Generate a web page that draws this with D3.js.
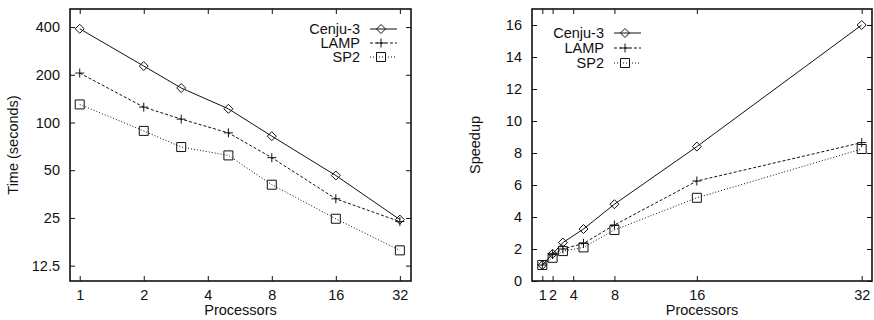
<!DOCTYPE html>
<html lang="en">
<head>
    <meta charset="UTF-8">
    <title>Time and speedup vs processors</title>
    <style>
        body {
            margin: 0;
            background-color: #fff;
        }

        svg text {
            font-family: "Liberation Sans", Arial, sans-serif;
            font-size: 14.5px;
            fill: #111;
        }

        .axis path {
            display: none;
        }

        .axis line {
            stroke: #111;
        }
    </style>
</head>
<body>
    <svg id="chart" width="874" height="320"></svg>

    <script src="https://cdnjs.cloudflare.com/ajax/libs/d3/7.8.5/d3.min.js"></script>
    <script>
        // data
        const processors = [1, 2, 3, 5, 8, 16, 32];

        const timeCenju = [390, 227, 165, 122, 82, 46.3, 24.4];
        const timeLamp = [205, 125, 105, 86, 60, 33, 23.7];
        const timeSp2 = [130, 88.5, 70, 62, 40.5, 24.7, 15.6];

        const speedupCenju = [1, 1.7, 2.4, 3.25, 4.8, 8.4, 16];
        const speedupLamp = [1, 1.65, 2.0, 2.35, 3.5, 6.25, 8.65];
        const speedupSp2 = [1, 1.45, 1.87, 2.1, 3.19, 5.2, 8.25];

        const seriesNames = ['Cenju-3', 'LAMP', 'SP2'];
        const procTicks = [1, 2, 4, 8, 16, 32];
        const timeTicks = [12.5, 25, 50, 100, 200, 400];
        const speedupTicks = [0, 2, 4, 6, 8, 10, 12, 14, 16];

        const styles = [
            { dash: null, marker: 'diamond' },
            { dash: '3,2', marker: 'plus' },
            { dash: '1,2', marker: 'square' }
        ];

        let svg = d3.select('#chart');

        function markerPath (kind) {
            if (kind === 'plus') {
                return 'M-4.5,0H4.5M0,-4.5V4.5';
            }
            if (kind === 'diamond') {
                return 'M0,-4.5L4.5,0L0,4.5L-4.5,0Z';
            }
            return 'M-4.5,-4.5H4.5V4.5H-4.5Z';
        }

        function drawPanel (opts) {
            let g = svg.append('g');
            let x = opts.x, y = opts.y;
            let [x0, x1] = x.range();
            let [y0, y1] = y.range();

            // ticks, mirrored on all sides, pointing inward
            g.append('g').attr('class', 'axis')
                .attr('transform', `translate(0,${y0})`)
                .call(d3.axisBottom(x).tickValues(procTicks).tickSize(-5).tickPadding(9).tickFormat(d3.format('d')));
            g.append('g').attr('class', 'axis')
                .attr('transform', `translate(0,${y1})`)
                .call(d3.axisTop(x).tickValues(procTicks).tickSize(-5).tickFormat(''));
            g.append('g').attr('class', 'axis')
                .attr('transform', `translate(${x0},0)`)
                .call(d3.axisLeft(y).tickValues(opts.yTicks).tickSize(-5).tickPadding(10).tickFormat(opts.yFormat));
            g.append('g').attr('class', 'axis')
                .attr('transform', `translate(${x1},0)`)
                .call(d3.axisRight(y).tickValues(opts.yTicks).tickSize(-5).tickFormat(''));

            g.append('rect')
                .attr('x', x0).attr('y', y1)
                .attr('width', x1 - x0).attr('height', y0 - y1)
                .attr('fill', 'none')
                .attr('stroke', '#111')
                .attr('stroke-width', 1.6);

            let line = d3.line()
                .x(d => x(d[0]))
                .y(d => y(d[1]));

            opts.series.forEach((values, i) => {
                let pts = processors.map((p, j) => [p, values[j]]);
                g.append('path')
                    .attr('d', line(pts))
                    .attr('fill', 'none')
                    .attr('stroke', '#111')
                    .attr('stroke-width', 1)
                    .attr('stroke-dasharray', styles[i].dash);
                g.selectAll(null)
                    .data(pts)
                    .enter()
                    .append('path')
                    .attr('transform', d => `translate(${x(d[0])},${y(d[1])})`)
                    .attr('d', markerPath(styles[i].marker))
                    .attr('fill', 'none')
                    .attr('stroke', '#111')
                    .attr('stroke-width', 1);
            });

            // legend
            seriesNames.forEach((name, i) => {
                let ly = opts.legend.y + i * opts.legend.step;
                let lx = opts.legend.x;
                g.append('text')
                    .attr('x', lx)
                    .attr('y', ly)
                    .attr('dy', '0.35em')
                    .attr('text-anchor', 'end')
                    .text(name);
                g.append('line')
                    .attr('x1', lx + 10).attr('x2', lx + 37)
                    .attr('y1', ly).attr('y2', ly)
                    .attr('stroke', '#111')
                    .attr('stroke-dasharray', styles[i].dash);
                g.append('path')
                    .attr('transform', `translate(${lx + 21},${ly})`)
                    .attr('d', markerPath(styles[i].marker))
                    .attr('fill', 'none')
                    .attr('stroke', '#111');
            });

            g.append('text')
                .attr('x', (x0 + x1) / 2)
                .attr('y', 315)
                .attr('text-anchor', 'middle')
                .text('Processors');

            g.append('text')
                .attr('transform', `translate(${opts.yLabelX},${(y0 + y1) / 2}) rotate(-90)`)
                .attr('dy', '0.35em')
                .attr('text-anchor', 'middle')
                .text(opts.yLabel);
        }

        drawPanel({
            x: d3.scaleLog().base(2).domain([0.9, 36.1]).range([70, 411]),
            y: d3.scaleLog().base(2).domain([10, 520]).range([281, 9]),
            yTicks: timeTicks,
            yFormat: d => String(d),
            series: [timeCenju, timeLamp, timeSp2],
            legend: { x: 360, y: 29, step: 14 },
            yLabel: 'Time (seconds)',
            yLabelX: 13
        });

        drawPanel({
            x: d3.scaleLinear().domain([0, 33]).range([532, 872]),
            y: d3.scaleLinear().domain([0, 17]).range([281, 9]),
            yTicks: speedupTicks,
            yFormat: d3.format('d'),
            series: [speedupCenju, speedupLamp, speedupSp2],
            legend: { x: 604, y: 33, step: 15 },
            yLabel: 'Speedup',
            yLabelX: 475
        });
    </script>
</body>
</html>
